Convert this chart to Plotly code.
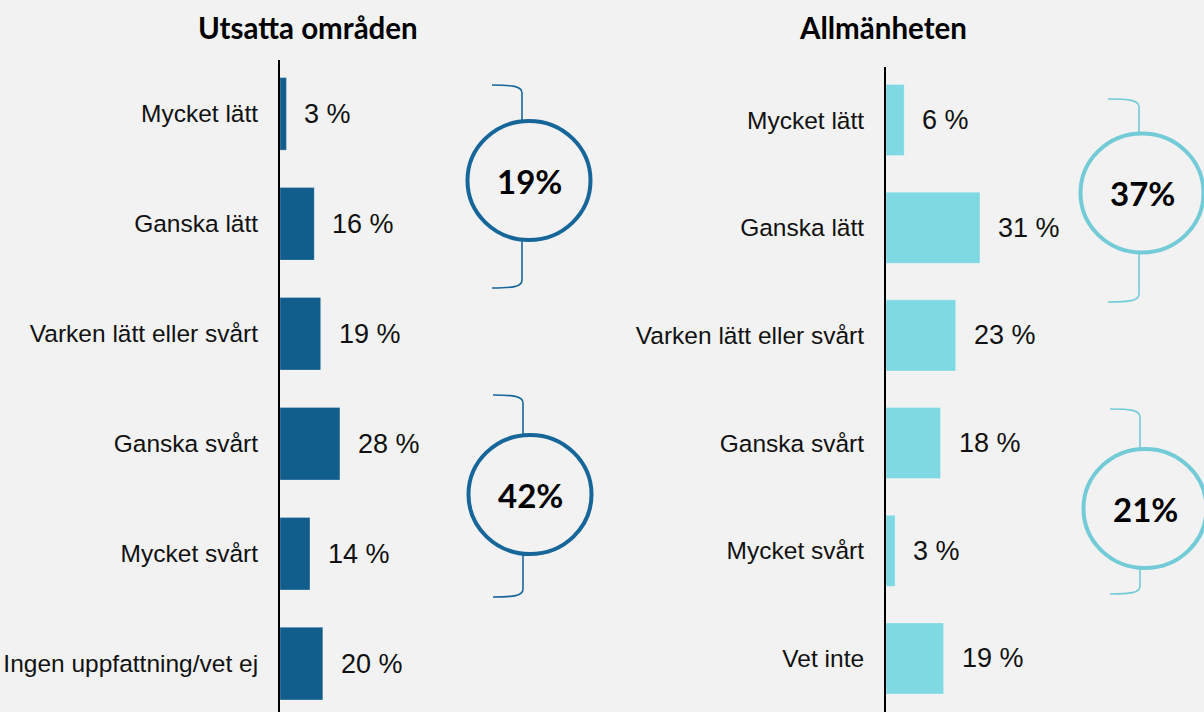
import plotly.graph_objects as go

W, H = 1204, 712

# ---------------- data ----------------
left_title = "Utsatta områden"
left_categories = ["Mycket lätt", "Ganska lätt", "Varken lätt eller svårt",
                   "Ganska svårt", "Mycket svårt", "Ingen uppfattning/vet ej"]
left_values = [3, 16, 19, 28, 14, 20]

right_title = "Allmänheten"
right_categories = ["Mycket lätt", "Ganska lätt", "Varken lätt eller svårt",
                    "Ganska svårt", "Mycket svårt", "Vet inte"]
right_values = [6, 31, 23, 18, 3, 19]

# groups summed in circles (indices into the value lists)
easy_group = [0, 1]
hard_group = [3, 4]

# ---------------- style ----------------
BG = "#f2f2f2"
LEFT_BAR = "#115e8d"
LEFT_RING = "#17669a"
RIGHT_BAR = "#7fd9e2"
RIGHT_RING = "#72cbd6"
LABEL_FONT = "Liberation Sans, Arial, sans-serif"
BOLD_FONT = "Lato, Open Sans, sans-serif"


def fx(x):
    return x / W


def fy(y):
    return 1 - y / H


fig = go.Figure()

fig.add_trace(go.Bar(
    x=left_values, y=left_categories, orientation="h",
    marker=dict(color=LEFT_BAR, line=dict(color="rgba(255,255,255,0.25)", width=1)),
    width=0.66, xaxis="x", yaxis="y", hoverinfo="skip",
))
fig.add_trace(go.Bar(
    x=right_values, y=right_categories, orientation="h",
    marker=dict(color=RIGHT_BAR, line=dict(color="rgba(255,255,255,0.25)", width=1)),
    width=0.66, xaxis="x2", yaxis="y2", hoverinfo="skip",
))

annotations = []
for cats, vals, xr, yr in [(left_categories, left_values, "x", "y"),
                           (right_categories, right_values, "x2", "y2")]:
    for c, v in zip(cats, vals):
        annotations.append(dict(
            x=v, y=c, xref=xr, yref=yr, text=f"{v} %", showarrow=False,
            xanchor="left", yanchor="middle", xshift=16,
            font=dict(family=LABEL_FONT, size=27, color="#111111"),
        ))

# titles
annotations.append(dict(x=fx(307.5), y=fy(28), xref="paper", yref="paper",
                        text=f"<b>{left_title}</b>", showarrow=False,
                        xanchor="center", yanchor="middle",
                        font=dict(family=BOLD_FONT, size=29.5, color="black")))
annotations.append(dict(x=fx(882.5), y=fy(28), xref="paper", yref="paper",
                        text=f"<b>{right_title}</b>", showarrow=False,
                        xanchor="center", yanchor="middle",
                        font=dict(family=BOLD_FONT, size=29.5, color="black")))

shapes = []


def bracket(xe, xv, yt, yb, color):
    p = (f"M {fx(xe)},{fy(yt)} C {fx(xv-10)},{fy(yt)} {fx(xv)},{fy(yt+1)} {fx(xv)},{fy(yt+8)} "
         f"L {fx(xv)},{fy(yb-8)} C {fx(xv)},{fy(yb-1)} {fx(xv-10)},{fy(yb)} {fx(xe)},{fy(yb)}")
    return dict(type="path", path=p, xref="paper", yref="paper",
                line=dict(color=color, width=1.6), layer="above")


def ring(cx, cy, color, rx=61.5, ry=59.5):
    return dict(type="circle", xref="paper", yref="paper",
                x0=fx(cx - rx), x1=fx(cx + rx), y0=fy(cy + ry), y1=fy(cy - ry),
                line=dict(color=color, width=4), fillcolor=BG, layer="above")


circle_specs = [
    # (values, group, bracket xe, xv, yt, yb, circle cx, cy, color)
    (left_values, easy_group, 492, 522, 85, 288, 529, 180.5, LEFT_RING),
    (left_values, hard_group, 493, 523, 395, 597, 530, 494.5, LEFT_RING),
    (right_values, easy_group, 1108, 1139, 99, 302, 1142, 193, RIGHT_RING),
    (right_values, hard_group, 1110, 1140, 409, 594, 1145, 508.5, RIGHT_RING),
]
for vals, grp, xe, xv, yt, yb, cx, cy, col in circle_specs:
    shapes.append(bracket(xe, xv, yt, yb, col))
    shapes.append(ring(cx, cy, col))
    total = sum(vals[i] for i in grp)
    annotations.append(dict(x=fx(cx), y=fy(cy), xref="paper", yref="paper",
                            text=f"<b>{total}%</b>", showarrow=False,
                            xanchor="center", yanchor="middle",
                            font=dict(family=BOLD_FONT, size=33, color="black")))

axis_common = dict(showgrid=False, zeroline=False, showticklabels=False, fixedrange=True)
yaxis_common = dict(type="category", showgrid=False, zeroline=False, showline=True,
                    linecolor="black", linewidth=2, ticks="", ticklabelstandoff=15,
                    tickfont=dict(family=LABEL_FONT, size=24.5, color="#111111"),
                    fixedrange=True)

fig.update_layout(
    width=W, height=H, autosize=False,
    margin=dict(l=0, r=0, t=0, b=0),
    paper_bgcolor=BG, plot_bgcolor=BG,
    showlegend=False, bargap=0.34,
    xaxis=dict(domain=[fx(280), fx(480)], range=[0, 200 / 2.14], anchor="y", **axis_common),
    yaxis=dict(domain=[0, fy(60)], range=[5.44, -0.49], anchor="x", **yaxis_common),
    xaxis2=dict(domain=[fx(886), 1.0], range=[0, 318 / 3.03], anchor="y2", **axis_common),
    yaxis2=dict(domain=[0, fy(67)], range=[5.497, -0.492], anchor="x2", **yaxis_common),
    annotations=annotations,
    shapes=shapes,
)

fig.write_html(
    "out.html",
    config={"displayModeBar": False},
    post_script="document.body.style.margin='0';document.body.style.overflow='hidden';"
                "document.body.style.background='" + BG + "';",
)
